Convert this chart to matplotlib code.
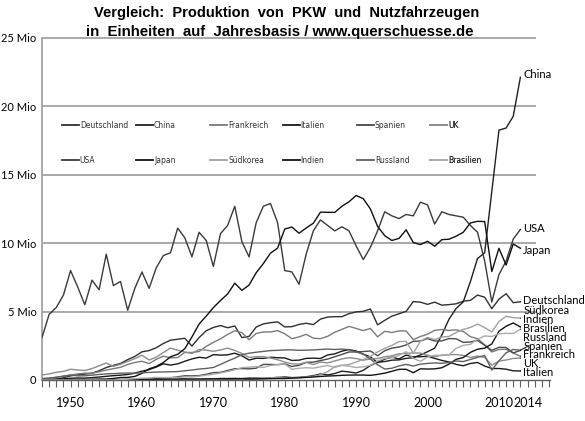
import matplotlib
matplotlib.use("Agg")
import matplotlib.pyplot as plt
from matplotlib.lines import Line2D

# Jahre 1946 - 2013
jahre = list(range(1946, 2014))

# Produktion in Mio Einheiten (PKW + Nutzfahrzeuge)
usa = [3.1, 4.8, 5.3, 6.2, 8.0, 6.8, 5.5, 7.3, 6.6, 9.2,
       6.9, 7.2, 5.1, 6.7, 7.9, 6.7, 8.2, 9.1, 9.3, 11.1,
       10.4, 9.0, 10.8, 10.2, 8.3, 10.7, 11.3, 12.7, 10.1, 9.0,
       11.5, 12.7, 12.9, 11.5, 8.0, 7.9, 7.0, 9.2, 10.9, 11.7,
       11.3, 10.9, 11.2, 10.9, 9.8, 8.8, 9.7, 10.9, 12.3, 12.0,
       11.8, 12.1, 12.0, 13.0, 12.8, 11.4, 12.3, 12.1, 12.0, 11.9,
       11.3, 10.8, 8.7, 5.7, 7.7, 8.7, 10.3, 11.0]
japan = [0.015, 0.011, 0.020, 0.029, 0.032, 0.038, 0.039, 0.050, 0.070, 0.069,
         0.111, 0.182, 0.188, 0.263, 0.482, 0.814, 0.991, 1.28, 1.70, 1.88,
         2.29, 3.15, 4.09, 4.67, 5.29, 5.81, 6.29, 7.08, 6.55, 6.94,
         7.84, 8.51, 9.27, 9.64, 11.04, 11.18, 10.73, 11.11, 11.46, 12.27,
         12.26, 12.25, 12.70, 13.03, 13.49, 13.25, 12.50, 11.23, 10.55, 10.20,
         10.35, 10.98, 10.05, 9.90, 10.14, 9.78, 10.26, 10.29, 10.51, 10.80,
         11.48, 11.60, 11.58, 7.93, 9.63, 8.40, 9.94, 9.63]
china = [0, 0, 0, 0, 0, 0, 0, 0, 0, 0,
         0.002, 0.008, 0.016, 0.020, 0.023, 0.004, 0.010, 0.021, 0.028, 0.041,
         0.056, 0.020, 0.025, 0.053, 0.087, 0.111, 0.108, 0.116, 0.105, 0.140,
         0.135, 0.125, 0.149, 0.186, 0.222, 0.176, 0.196, 0.240, 0.316, 0.443,
         0.373, 0.472, 0.647, 0.587, 0.509, 0.709, 1.06, 1.30, 1.35, 1.45,
         1.47, 1.58, 1.63, 1.83, 2.07, 2.33, 3.29, 4.44, 5.23, 5.71,
         7.19, 8.88, 9.30, 13.79, 18.26, 18.42, 19.27, 22.12]
deutschland = [0.024, 0.030, 0.060, 0.161, 0.306, 0.375, 0.430, 0.490, 0.680, 0.909,
               1.07, 1.21, 1.49, 1.72, 2.06, 2.15, 2.36, 2.67, 2.91, 2.98,
               3.05, 2.48, 3.10, 3.60, 3.84, 3.98, 3.82, 3.95, 3.10, 3.19,
               3.87, 4.10, 4.19, 4.25, 3.88, 3.90, 4.06, 4.15, 4.05, 4.45,
               4.60, 4.63, 4.63, 4.85, 4.98, 5.02, 5.19, 4.03, 4.36, 4.67,
               4.84, 5.02, 5.73, 5.69, 5.53, 5.69, 5.47, 5.51, 5.57, 5.76,
               5.82, 6.21, 6.05, 5.21, 5.91, 6.31, 5.65, 5.72]
frankreich = [0.096, 0.137, 0.200, 0.286, 0.357, 0.446, 0.500, 0.498, 0.600, 0.725,
              0.827, 0.928, 1.13, 1.28, 1.37, 1.20, 1.51, 1.74, 1.62, 1.64,
              2.02, 2.01, 2.08, 2.46, 2.75, 3.01, 3.33, 3.60, 3.46, 2.95,
              3.40, 3.51, 3.51, 3.61, 3.38, 3.02, 3.15, 3.34, 3.06, 3.02,
              3.19, 3.49, 3.70, 3.92, 3.77, 3.61, 3.77, 3.16, 3.56, 3.47,
              3.59, 3.58, 2.95, 3.18, 3.35, 3.63, 3.69, 3.62, 3.67, 3.55,
              3.17, 3.02, 2.57, 2.05, 2.23, 2.24, 1.97, 1.74]
italien = [0.025, 0.035, 0.059, 0.086, 0.128, 0.147, 0.138, 0.174, 0.216, 0.269,
           0.316, 0.353, 0.403, 0.501, 0.645, 0.759, 0.947, 1.18, 1.09, 1.18,
           1.37, 1.54, 1.66, 1.60, 1.85, 1.82, 1.84, 1.96, 1.77, 1.46,
           1.59, 1.58, 1.66, 1.63, 1.61, 1.43, 1.45, 1.58, 1.60, 1.57,
           1.83, 1.91, 2.11, 2.22, 2.12, 1.88, 1.69, 1.27, 1.53, 1.67,
           1.54, 1.82, 1.69, 1.70, 1.74, 1.58, 1.43, 1.32, 1.14, 1.04,
           1.21, 1.28, 1.02, 0.84, 0.84, 0.79, 0.67, 0.66]
spanien = [0, 0, 0, 0, 0.001, 0.002, 0.004, 0.008, 0.012, 0.022,
           0.028, 0.034, 0.045, 0.050, 0.058, 0.075, 0.107, 0.130, 0.163, 0.230,
           0.309, 0.300, 0.325, 0.420, 0.539, 0.560, 0.697, 0.821, 0.834, 0.814,
           0.865, 1.14, 1.14, 1.12, 1.18, 0.987, 1.07, 1.29, 1.31, 1.42,
           1.53, 1.70, 1.87, 2.05, 2.05, 2.08, 2.12, 1.77, 2.14, 2.33,
           2.41, 2.56, 2.83, 2.85, 3.03, 2.85, 2.86, 3.03, 3.01, 2.75,
           2.78, 2.89, 2.54, 2.17, 2.39, 2.37, 1.98, 2.16]
uk = [0.365, 0.446, 0.560, 0.630, 0.784, 0.734, 0.690, 0.835, 1.04, 1.24,
      1.00, 1.15, 1.36, 1.56, 1.81, 1.46, 1.67, 2.01, 2.33, 2.18,
      2.04, 1.94, 2.23, 2.18, 2.10, 2.20, 2.33, 2.16, 1.94, 1.65,
      1.71, 1.71, 1.61, 1.48, 1.31, 1.18, 1.16, 1.29, 1.13, 1.31,
      1.25, 1.39, 1.54, 1.63, 1.57, 1.45, 1.54, 1.57, 1.70, 1.77,
      1.92, 1.94, 1.98, 1.97, 1.81, 1.69, 1.82, 1.85, 1.86, 1.80,
      1.65, 1.75, 1.65, 1.09, 1.39, 1.46, 1.58, 1.60]
suedkorea = [0, 0, 0, 0, 0, 0, 0, 0, 0, 0,
             0, 0, 0, 0, 0, 0, 0.002, 0.004, 0.006, 0.008,
             0.010, 0.015, 0.020, 0.025, 0.029, 0.025, 0.023, 0.029, 0.033, 0.037,
             0.049, 0.086, 0.159, 0.204, 0.123, 0.134, 0.162, 0.221, 0.265, 0.378,
             0.602, 0.980, 1.08, 1.13, 1.32, 1.50, 1.73, 2.05, 2.31, 2.53,
             2.81, 2.82, 1.95, 2.84, 3.11, 2.95, 3.15, 3.18, 3.47, 3.70,
             3.84, 4.09, 3.83, 3.51, 4.27, 4.66, 4.56, 4.52]
indien = [0.010, 0.010, 0.012, 0.015, 0.016, 0.020, 0.016, 0.014, 0.017, 0.024,
          0.030, 0.033, 0.030, 0.040, 0.051, 0.054, 0.060, 0.063, 0.070, 0.070,
          0.077, 0.074, 0.079, 0.082, 0.085, 0.084, 0.080, 0.086, 0.090, 0.073,
          0.082, 0.089, 0.100, 0.110, 0.113, 0.135, 0.160, 0.190, 0.220, 0.260,
          0.290, 0.310, 0.340, 0.360, 0.364, 0.360, 0.340, 0.410, 0.500, 0.636,
          0.780, 0.785, 0.533, 0.818, 0.801, 0.814, 0.895, 1.16, 1.51, 1.64,
          2.02, 2.25, 2.33, 2.64, 3.56, 3.93, 4.17, 3.88]
russland = [0.102, 0.133, 0.197, 0.276, 0.363, 0.301, 0.305, 0.354, 0.406, 0.445,
            0.465, 0.496, 0.511, 0.495, 0.524, 0.555, 0.578, 0.587, 0.603, 0.616,
            0.675, 0.729, 0.800, 0.844, 0.916, 1.14, 1.38, 1.60, 1.85, 1.96,
            2.03, 2.09, 2.15, 2.17, 2.20, 2.20, 2.17, 2.18, 2.20, 2.23,
            2.26, 2.23, 2.26, 2.22, 2.05, 1.90, 1.52, 1.12, 0.80, 0.86,
            1.03, 1.14, 1.02, 1.16, 1.21, 1.25, 1.22, 1.28, 1.39, 1.35,
            1.50, 1.66, 1.79, 0.72, 1.40, 1.99, 2.23, 2.18]
brasilien = [0, 0, 0, 0, 0, 0, 0, 0, 0, 0,
             0.005, 0.031, 0.061, 0.096, 0.133, 0.145, 0.191, 0.174, 0.183, 0.185,
             0.225, 0.225, 0.280, 0.354, 0.416, 0.516, 0.622, 0.750, 0.905, 0.930,
             0.986, 0.921, 1.06, 1.13, 1.17, 0.780, 0.859, 0.896, 0.865, 0.967,
             1.06, 0.920, 1.07, 1.01, 0.914, 0.960, 1.07, 1.39, 1.58, 1.63,
             1.80, 2.07, 1.59, 1.36, 1.68, 1.82, 1.79, 1.83, 2.32, 2.53,
             2.61, 2.98, 3.22, 3.18, 3.38, 3.41, 3.40, 3.71]

laender = ["Deutschland", "China", "Frankreich", "Italien", "Spanien", "UK",
           "USA", "Japan", "Südkorea", "Indien", "Russland", "Brasilien"]
werte = [deutschland, china, frankreich, italien, spanien, uk,
         usa, japan, suedkorea, indien, russland, brasilien]
farben = ["#303030", "#202020", "#7a7a7a", "#1a1a1a", "#4a4a4a", "#8c8c8c",
          "#3a3a3a", "#101010", "#a0a0a0", "#141414", "#606060", "#ababab"]

# Beschriftung rechts (y-Position in Mio)
label_y = {"China": 22.3, "USA": 11.05, "Japan": 9.5, "Deutschland": 5.78,
           "Südkorea": 5.05, "Indien": 4.4, "Brasilien": 3.77, "Russland": 3.12,
           "Spanien": 2.48, "Frankreich": 1.85, "UK": 1.22, "Italien": 0.52}

fig = plt.figure(figsize=(5.85, 4.21), dpi=100)
ax = fig.add_axes([42 / 585, 41 / 421, 508 / 585, 342 / 421])

for name, v, c in zip(laender, werte, farben):
    ax.plot(jahre, v, color=c, lw=1.0, zorder=3)

ax.set_xlim(1946, 2017.15)
ax.set_ylim(0, 25)

# Gitterlinien
ax.hlines([5, 10, 15, 20, 25], 1946, 2015.2, color="#a3a3a3", lw=1.3, zorder=1, clip_on=False)

for s in ["top", "right"]:
    ax.spines[s].set_visible(False)
ax.spines["left"].set_color("#a3a3a3")
ax.spines["left"].set_linewidth(1.3)
ax.spines["bottom"].set_color("#606060")
ax.spines["bottom"].set_linewidth(1.0)

ax.set_yticks([0, 5, 10, 15, 20, 25])
ax.set_yticklabels(["0", "5 Mio", "10 Mio", "15 Mio", "20 Mio", "25 Mio"],
                   fontfamily="Lato", fontsize=8)
ax.tick_params(axis="y", length=0, pad=4)

ax.set_xticks([1950, 1960, 1970, 1980, 1990, 2000, 2010, 2014])
ax.set_xticklabels(["1950", "1960", "1970", "1980", "1990", "2000", "2010", "2014"],
                   fontfamily="Lato", fontsize=9)
ax.set_xticks(range(1946, 2018), minor=True)
ax.tick_params(axis="x", which="both", direction="out", length=5, width=0.8,
               color="#606060", pad=7)

# Beschriftung am Linienende
for name, v in zip(laender, werte):
    ax.annotate(name, xy=(jahre[-1], v[-1]), xytext=(2013.4, label_y[name]),
                fontsize=8, fontfamily="Lato", va="center", ha="left",
                arrowprops=dict(arrowstyle="-", color="#222222", lw=0.8,
                                shrinkA=0, shrinkB=0),
                annotation_clip=False)

# Legende: 2 Zeilen x 6 Spalten, gleiche Spaltenbreite
spalten_x = [0.039, 0.185, 0.331, 0.474, 0.620, 0.764]
for i in range(6):
    handles = [Line2D([], [], color=farben[i], lw=1.3),
               Line2D([], [], color=farben[i + 6], lw=1.3)]
    leg = ax.legend(handles, [laender[i], laender[i + 6]], loc="center left",
                    bbox_to_anchor=(spalten_x[i], 0.693), frameon=False,
                    fontsize=5.5, handlelength=2.2, handletextpad=0.15,
                    labelspacing=3.4, borderpad=0, borderaxespad=0,
                    labelcolor="#333333")
    ax.add_artist(leg)

fig.text(0.49, 0.968, "Vergleich:  Produktion  von  PKW  und  Nutzfahrzeugen",
         ha="center", va="center", fontsize=10.5, fontweight="bold",
         fontfamily="Liberation Sans")
fig.text(0.478, 0.924, "in  Einheiten  auf  Jahresbasis / www.querschuesse.de",
         ha="center", va="center", fontsize=10.8, fontweight="bold",
         fontfamily="Liberation Sans")

fig.savefig("out.png", dpi=100)
